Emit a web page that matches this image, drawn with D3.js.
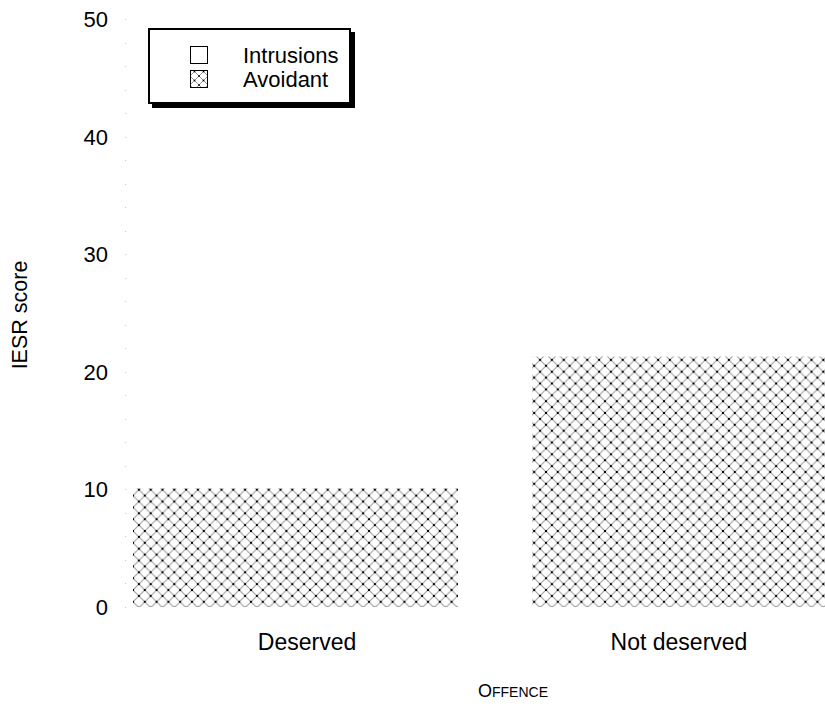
<!DOCTYPE html>
<html>
<head>
<meta charset="utf-8">
<script src="https://cdn.jsdelivr.net/npm/d3@7"></script>
<style>
  html, body { margin: 0; padding: 0; background: #fff; overflow: hidden; }
  text { font-family: "Liberation Sans", Arial, sans-serif; fill: #000; }
</style>
</head>
<body>
<svg id="chart" width="825" height="706"></svg>
<script>
// ---- data ----
const categories = ["Deserved", "Not deserved"];
const seriesNames = ["Intrusions", "Avoidant"];
const intrusions = [18.1, 42.0];
const avoidant = [10.1, 21.3];
const yTicks = [0, 10, 20, 30, 40, 50];
const yMinorDots = d3.range(0, 51, 2);
const yTitle = "IESR score";
const xTitle = "Offence";

// ---- layout ----
const svg = d3.select("#chart");

const y = d3.scaleLinear().domain([0, 50]).range([607, 19]);
const x = d3.scaleBand().domain(categories).range([96, 894])
  .paddingInner(0.1855).paddingOuter(0.09275);
const labelX = d3.scalePoint().domain(categories).range([307, 679]);

// pattern
const defs = svg.append("defs");
const P = 11.8;
const pat = defs.append("pattern").attr("id", "hatch")
  .attr("patternUnits", "userSpaceOnUse")
  .attr("width", P).attr("height", P)
  .attr("x", 133).attr("y", 0);
pat.append("rect").attr("width", P).attr("height", P).attr("fill", "#fff");
pat.append("path").attr("d", `M0,0L${P},${P}M${P},0L0,${P}`)
  .attr("stroke", "#9a9a9a").attr("stroke-width", 1);
[[0,0],[P,0],[0,P],[P,P],[P/2,P/2]].forEach(([cx, cy]) => {
  pat.append("rect").attr("x", cx - 1).attr("y", cy - 1)
    .attr("width", 2).attr("height", 2).attr("fill", "#000");
});

// y axis: faint dots
svg.append("g").selectAll("rect.dot").data(yMinorDots).join("rect")
  .attr("x", 125).attr("y", d => Math.round(y(d)))
  .attr("width", 1).attr("height", 1).attr("fill", "#c8c8c8");

// y tick labels
svg.append("g").selectAll("text.yt").data(yTicks).join("text")
  .attr("x", 108).attr("y", d => y(d)).attr("dy", "0.36em")
  .attr("text-anchor", "end").attr("font-size", 22)
  .text(d => d);

// bars: intrusions (white, behind)
svg.append("g").selectAll("rect.intr").data(categories).join("rect")
  .attr("x", d => x(d)).attr("width", x.bandwidth())
  .attr("y", (d, i) => y(intrusions[i]))
  .attr("height", (d, i) => y(0) - y(intrusions[i]))
  .attr("fill", "#fff").attr("stroke", "none");

// bars: avoidant (hatched)
svg.append("g").selectAll("rect.avoid").data(categories).join("rect")
  .attr("x", d => x(d)).attr("width", x.bandwidth())
  .attr("y", (d, i) => y(avoidant[i]))
  .attr("height", (d, i) => y(0) - y(avoidant[i]))
  .attr("fill", "url(#hatch)");

// category labels
svg.append("g").selectAll("text.cat").data(categories).join("text")
  .attr("x", d => labelX(d)).attr("y", 650)
  .attr("text-anchor", "middle").attr("font-size", 23)
  .text(d => d);

// x title in small caps
const xt = svg.append("text").attr("x", 513).attr("y", 697)
  .attr("text-anchor", "middle");
xt.append("tspan").attr("font-size", 18).text(xTitle[0].toUpperCase());
xt.append("tspan").attr("font-size", 14).text(xTitle.slice(1).toUpperCase());

// y title
svg.append("text")
  .attr("transform", "translate(27,315) rotate(-90)")
  .attr("text-anchor", "middle").attr("font-size", 21.5)
  .text(yTitle);

// legend
const lg = svg.append("g");
lg.append("rect").attr("x", 152).attr("y", 32).attr("width", 203).attr("height", 76).attr("fill", "#000");
lg.append("rect").attr("x", 149).attr("y", 29).attr("width", 201).attr("height", 74)
  .attr("fill", "#fff").attr("stroke", "#000").attr("stroke-width", 2);
const fills = ["#fff", "url(#hatchL)"];
const patL = defs.append("pattern").attr("id", "hatchL")
  .attr("patternUnits", "userSpaceOnUse").attr("width", 9).attr("height", 9)
  .attr("x", 190).attr("y", 70);
patL.append("rect").attr("width", 9).attr("height", 9).attr("fill", "#fff");
patL.append("path").attr("d", "M0,0L9,9M9,0L0,9").attr("stroke", "#999").attr("stroke-width", 1);
[[0,0],[9,0],[0,9],[9,9],[4.5,4.5]].forEach(([cx, cy]) => {
  patL.append("rect").attr("x", cx - 0.8).attr("y", cy - 0.8)
    .attr("width", 1.6).attr("height", 1.6).attr("fill", "#000");
});
const li = lg.selectAll("g.item").data(seriesNames).join("g")
  .attr("transform", (d, i) => `translate(0,${i * 24})`);
li.append("rect").attr("x", 190.5).attr("y", 46.5).attr("width", 17).attr("height", 17)
  .attr("fill", (d, i) => fills[i]).attr("stroke", "#000").attr("stroke-width", 1);
li.append("text").attr("x", 243).attr("y", 63).attr("font-size", 22).text(d => d);
</script>
</body>
</html>
